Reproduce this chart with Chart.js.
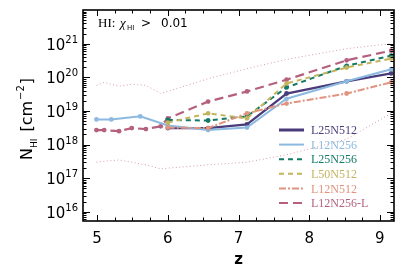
<!DOCTYPE html>
<html>
<head>
<meta charset="utf-8">
<script src="https://cdn.jsdelivr.net/npm/chart.js@4/dist/chart.umd.min.js"></script>
<style>
  html, body { margin: 0; padding: 0; background: #fff; }
  canvas { display: block; }
</style>
</head>
<body>
<canvas id="nhiChart" width="415" height="277"></canvas>
<script>
// redshifts of the snapshots
const zLong = [4.99, 5.10, 5.31, 5.49, 5.69, 5.90, 6.00, 6.57, 7.12, 7.68, 8.53, 9.16];
const zBlue = [4.99, 5.20, 5.61, 6.00, 6.57, 7.12, 7.68, 8.53, 9.16];
const zShort = [6.00, 6.57, 7.12, 7.68, 8.53, 9.16];

// N_HI [cm^-2] per run
const L25N512 = [3.1e18, 3.1e18, 4.0e18, 3.3e19, 7.6e19, 1.3e20];
const L12N256 = [5.6e18, 5.6e18, 6.9e18, 3.7e18, 2.7e18, 3.2e18, 2.3e19, 7.6e19, 1.74e20];
const L25N256 = [5.4e18, 5.2e18, 6.9e18, 5.0e19, 2.2e20, 4.4e20];
const L50N512 = [4.5e18, 8.5e18, 6.0e18, 6.6e19, 1.95e20, 3.6e20];
const L12N512 = [3.2e18, 3.1e18, 8.5e18, 1.66e19, 3.3e19, 7.1e19];
const L12N256L = [2.7e18, 2.7e18, 2.5e18, 3.1e18, 2.9e18, 3.5e18, 6.0e18, 1.9e19, 3.8e19, 8.5e19, 3.2e20, 6.2e20];
// spread of L12N256-L (dotted)
const L12N256L_hi = [5.8e19, 7.1e19, 5.4e19, 6.2e19, 5.8e19, 3.3e19, 3.8e19, 9.1e19, 1.8e20, 3.4e20, 7.1e20, 1.0e21];
const L12N256L_lo = [3.0e17, 3.2e17, 3.5e17, 3.0e17, 2.5e17, 1.9e17, 2.0e17, 2.5e17, 3.0e17, 5.0e17, 1.45e18, 8.5e18];

const xTicks = [5, 6, 7, 8, 9];
const yTicks = [16, 17, 18, 19, 20, 21];

const colors = {
  L25N512: '#4a3b7a',
  L12N256: '#8cb9e0',
  L25N256: '#137a66',
  L50N512: '#c3b45e',
  L12N512: '#e0937e',
  L12N256L: '#b5607f',
  dotted: '#d89aab'
};

function pts(xs, ys) {
  return xs.map((x, i) => ({x: x, y: ys[i]}));
}

function series(label, xs, ys, color, dash, width) {
  return {
    label: label,
    data: pts(xs, ys),
    borderColor: color,
    backgroundColor: color,
    borderWidth: width,
    borderDash: dash,
    pointRadius: 2.4,
    pointBorderWidth: 0,
    pointBackgroundColor: color,
    tension: 0,
    fill: false
  };
}

const legendRows = [
  {label: 'L25N512', color: colors.L25N512, dash: [], width: 3},
  {label: 'L12N256', color: colors.L12N256, dash: [], width: 2},
  {label: 'L25N256', color: colors.L25N256, dash: [5, 4], width: 2},
  {label: 'L50N512', color: colors.L50N512, dash: [5, 4], width: 2},
  {label: 'L12N512', color: colors.L12N512, dash: [7, 2, 2, 2], width: 2},
  {label: 'L12N256-L', color: colors.L12N256L, dash: [9, 5], width: 2}
];

//draw frame, inward ticks, labels and legend the IDL way
const idlAxes = {
  id: 'idlAxes',
  afterDraw(chart) {
    const ctx = chart.ctx;
    const a = chart.chartArea;
    const xs = chart.scales.x, ys = chart.scales.y;
    ctx.save();
    ctx.strokeStyle = '#000';
    ctx.fillStyle = '#000';

    // x ticks (top and bottom)
    ctx.lineWidth = 1;
    for (let v = 4.75; v <= 9.2; v += 0.25) {
      if (v < xs.min) continue;
      const px = Math.round(xs.getPixelForValue(v)) + 0.5;
      const major = Math.abs(v - Math.round(v)) < 1e-6;
      const len = major ? 6 : 3.5;
      ctx.beginPath();
      ctx.moveTo(px, a.bottom); ctx.lineTo(px, a.bottom - len);
      ctx.moveTo(px, a.top); ctx.lineTo(px, a.top + len);
      ctx.stroke();
    }
    // y ticks (left and right)
    for (let d = 15; d <= 21; d++) {
      for (let m = 1; m <= 9; m++) {
        const val = m * Math.pow(10, d);
        if (val < ys.min || val > ys.max) continue;
        const py = Math.round(ys.getPixelForValue(val)) + 0.5;
        const len = m === 1 ? 7 : 3.5;
        ctx.beginPath();
        ctx.moveTo(a.left, py); ctx.lineTo(a.left + len, py);
        ctx.moveTo(a.right, py); ctx.lineTo(a.right - len, py);
        ctx.stroke();
      }
    }

    // frame
    ctx.lineWidth = 1.6;
    ctx.strokeRect(a.left, a.top, a.right - a.left, a.bottom - a.top);

    // x tick labels
    ctx.font = '15px "DejaVu Sans"';
    ctx.textAlign = 'center';
    ctx.textBaseline = 'middle';
    xTicks.forEach(t => {
      ctx.fillText(String(t), xs.getPixelForValue(t), a.bottom + 18);
    });

    // y tick labels 10^n
    yTicks.forEach(t => {
      const py = ys.getPixelForValue(Math.pow(10, t));
      ctx.font = '10px "DejaVu Sans"';
      ctx.textAlign = 'right';
      ctx.textBaseline = 'alphabetic';
      ctx.fillText(String(t), a.left - 5, py - 1);
      const expW = ctx.measureText(String(t)).width;
      ctx.font = '15px "DejaVu Sans"';
      ctx.textBaseline = 'middle';
      ctx.fillText('10', a.left - 5 - expW, py + 2);
    });

    // x title
    ctx.font = 'bold 15px "DejaVu Sans"';
    ctx.textAlign = 'center';
    ctx.textBaseline = 'middle';
    ctx.fillText('z', xs.getPixelForValue(7), 260);

    // y title, rotated
    ctx.save();
    ctx.translate(32, 160);
    ctx.rotate(-Math.PI / 2);
    ctx.textAlign = 'left';
    ctx.textBaseline = 'alphabetic';
    let cx = 0;
    ctx.font = '16px "DejaVu Sans"';
    ctx.fillText('N', cx, 0); cx += ctx.measureText('N').width;
    ctx.font = '9px "DejaVu Sans"';
    ctx.fillText('HI', cx, 5); cx += ctx.measureText('HI').width + 7;
    ctx.font = '16px "DejaVu Sans"';
    ctx.fillText('[cm', cx, 0); cx += ctx.measureText('[cm').width + 1;
    ctx.font = '10px "DejaVu Sans"';
    ctx.fillText('\u22122', cx, -8); cx += ctx.measureText('\u22122').width + 1;
    ctx.font = '16px "DejaVu Sans"';
    ctx.fillText(']', cx, 0);
    ctx.restore();

    // threshold note
    ctx.textAlign = 'left';
    ctx.textBaseline = 'alphabetic';
    ctx.font = '13px "Liberation Serif"';
    ctx.fillText('HI:', 98, 27);
    ctx.font = 'italic 13px "Liberation Serif"';
    ctx.fillText('\u03c7', 120, 27);
    ctx.font = '7px "DejaVu Sans"';
    ctx.fillText('HI', 127, 30);
    ctx.font = '12px "DejaVu Sans"';
    ctx.fillText('>', 141, 27);
    ctx.fillText('0.01', 161, 27);

    // legend
    ctx.font = '12px "Liberation Serif"';
    ctx.textBaseline = 'middle';
    legendRows.forEach((r, i) => {
      const y = 130 + i * 14.6;
      ctx.strokeStyle = r.color;
      ctx.lineWidth = r.width;
      ctx.setLineDash(r.dash);
      ctx.beginPath();
      ctx.moveTo(279, y); ctx.lineTo(304, y);
      ctx.stroke();
      ctx.setLineDash([]);
      ctx.fillStyle = r.color;
      ctx.fillText(r.label, 311, y + 1);
    });
    ctx.restore();
  }
};

const chart = new Chart(document.getElementById('nhiChart'), {
  type: 'line',
  data: {
    datasets: [
      Object.assign(series('hi', zLong, L12N256L_hi, colors.dotted, [1, 2.5], 1), {pointRadius: 0}),
      Object.assign(series('lo', zLong, L12N256L_lo, colors.dotted, [1, 2.5], 1), {pointRadius: 0}),
      series('L12N512', zShort, L12N512, colors.L12N512, [7, 2, 2, 2], 2),
      series('L50N512', zShort, L50N512, colors.L50N512, [5, 4], 2),
      series('L25N256', zShort, L25N256, colors.L25N256, [5, 4], 2),
      series('L12N256', zBlue, L12N256, colors.L12N256, [], 2),
      series('L25N512', zShort, L25N512, colors.L25N512, [], 2.3),
      series('L12N256-L', zLong, L12N256L, colors.L12N256L, [9, 5], 2.2)
    ]
  },
  options: {
    responsive: false,
    devicePixelRatio: 1,
    animation: false,
    layout: {padding: {left: 83, top: 10, right: 21, bottom: 56}},
    plugins: {legend: {display: false}, tooltip: {enabled: false}},
    scales: {
      x: {type: 'linear', min: 4.8, max: 9.2, display: false},
      y: {type: 'logarithmic', min: Math.pow(10, 15.73), max: 1e22, display: false}
    }
  },
  plugins: [idlAxes]
});
</script>
</body>
</html>
